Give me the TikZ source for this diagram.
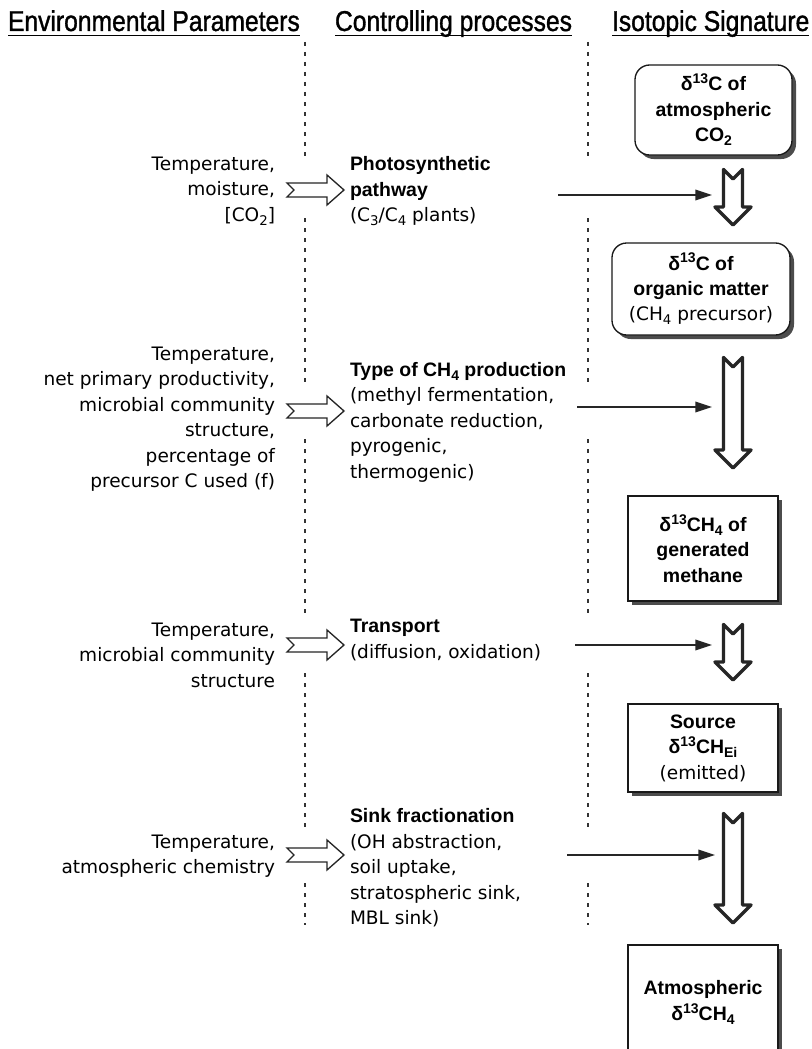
\documentclass[tikz,border=0pt]{standalone}
\usepackage{fontspec}
\setmainfont{DejaVu Sans}
\newfontfamily\libf{Liberation Sans}
\newfontfamily\headfont{Liberation Sans}[FakeStretch=0.86,FakeBold=1.2]
\usetikzlibrary{arrows.meta,shadows}
\tikzset{
  every node/.style={inner sep=0pt, outer sep=0pt},
  header/.style={font=\headfont\fontsize{21.5}{24}\selectfont, anchor=base west},
  envtext/.style={font=\fontsize{13.9}{19.1}\selectfont, align=right, anchor=east},
  proctext/.style={font=\fontsize{13.9}{19.1}\selectfont, align=left, anchor=west},
  guide/.style={draw=black!80, line width=1pt, dash pattern=on 3pt off 4.5pt},
  feed/.style={draw=black!85, line width=1.1pt, -{Triangle[length=12.5pt,width=8pt]}},
  hollowR/.style={draw=black!85, line width=1pt, fill=white, line join=miter},
  hollowD/.style={draw=black!85, line width=2.6pt, fill=white, line join=round},
  sigbox/.style={draw=black!90, line width=1pt, fill=white, align=center,
    font=\libf\bfseries\fontsize{14.6}{19.1}\selectfont,
    drop shadow={shadow xshift=3pt, shadow yshift=-3pt, fill=black!70, opacity=1}},
  roundbox/.style={sigbox, rounded corners=11pt},
}
\newcommand\ttl[1]{{\libf\bfseries\fontsize{14.6}{19.1}\selectfont #1}}
\newcommand\sups[1]{\raisebox{0.36em}{\fontsize{10.5}{10.5}\selectfont #1}}
\newcommand\bsub[1]{\raisebox{-0.2em}{\fontsize{10.5}{10.5}\selectfont #1}}
\newcommand\rsub[1]{\raisebox{-0.2em}{\fontsize{10}{10}\selectfont #1}}
\newcommand\DArr[3]{%
  \draw[hollowD] (723.5,#1+1.5) -- (733,#1+11) -- (742.5,#1+1.5) -- (742.5,#2-20)
    -- (751,#2-20) -- (733,#2-2) -- (715,#2-20) -- (723.5,#2-20) -- cycle;
  \coordinate (#3) at (712,#1);}
\newcommand\RArr[1]{%
  \draw[hollowR] (287,#1-7) -- (327,#1-7) -- (327,#1-15) -- (344,#1)
    -- (327,#1+15) -- (327,#1+7) -- (287,#1+7) -- (294,#1) -- cycle;}
\begin{document}
\begin{tikzpicture}[x=0.75pt,y=-0.75pt]
\useasboundingbox (0,0) rectangle (812,1049);
\clip (0,0) rectangle (812,1049);
\fill[white] (0,0) rectangle (812,1049);

% headers
\node[header] (h1) at (8,31) {Environmental Parameters};
\node[header] (h2) at (335,31) {Controlling processes};
\node[header] (h3) at (612,31) {Isotopic Signature};
\foreach \h in {h1,h2,h3}
  \draw[line width=1.1pt] ([yshift=-3.2pt]\h.base west) -- ([yshift=-3.2pt]\h.base east);

% dotted guides
\foreach \a/\b in {42/162,218/383,439/617,673/827,883/925}{
  \draw[guide] (305,\a) -- (305,\b);
  \draw[guide] (588,\a) -- (588,\b);
}

% environmental parameters
\node[envtext] (e1) at (275,191) {Temperature,\\moisture,\\{[}CO\rsub{2}]};
\node[envtext] (e2) at (275,419) {Temperature,\\net primary productivity,\\microbial community\\structure,\\percentage of\\precursor C used (f)};
\node[envtext] (e3) at (275,655) {Temperature,\\microbial community\\structure};
\node[envtext] (e4) at (275,856) {Temperature,\\atmospheric chemistry};

% hollow arrows
\RArr{190}
\RArr{411}
\RArr{645}
\RArr{855}

% processes
\node[proctext] (p1) at (350,191) {\ttl{Photosynthetic}\\\ttl{pathway}\\(C\rsub{3}/C\rsub{4} plants)};
\node[proctext] (p2) at (350,422) {\ttl{Type of CH\bsub{4} production}\\(methyl fermentation,\\carbonate reduction,\\pyrogenic,\\thermogenic)};
\node[proctext] (p3) at (350,640) {\ttl{Transport}\\(diffusion, oxidation)};
\node[proctext] (p4) at (350,868) {\ttl{Sink fractionation}\\(OH abstraction,\\soil uptake,\\stratospheric sink,\\MBL sink)};

% signature boxes
\node[roundbox, minimum width=117.75pt, minimum height=67.5pt] (b1) at (713.5,110)
  {δ\sups{13}C of\\atmospheric\\CO\bsub{2}};
\node[roundbox, minimum width=133.5pt, minimum height=69pt] (b2) at (701,289)
  {δ\sups{13}C of\\organic matter\\{\rmfamily\mdseries\fontsize{13.9}{19.1}\selectfont (CH\rsub{4} precursor)}};
\node[sigbox, minimum width=112.5pt, minimum height=78.75pt] (b3) at (703,548.5)
  {δ\sups{13}CH\bsub{4} of\\generated\\methane};
\node[sigbox, minimum width=112.5pt, minimum height=66pt] (b4) at (703,748)
  {Source\\δ\sups{13}CH\bsub{Ei}\\{\rmfamily\mdseries\fontsize{13.9}{19.1}\selectfont (emitted)}};
\node[sigbox, minimum width=112.5pt, minimum height=86.25pt] (b5) at (703,1002.5)
  {Atmospheric\\δ\sups{13}CH\bsub{4}};

% down hollow arrows
\DArr{168}{227}{d1}
\DArr{356}{470}{d2}
\DArr{623}{682}{d3}
\DArr{812}{925}{d4}

% feed arrows
\coordinate (f1) at (558,195);  \coordinate (g1) at (712,195);
\coordinate (f2) at (577,407);  \coordinate (g2) at (712,407);
\coordinate (f3) at (575,645);  \coordinate (g3) at (712,645);
\coordinate (f4) at (567,855);  \coordinate (g4) at (715,855);
\draw[feed] (f1) -- (g1);
\draw[feed] (f2) -- (g2);
\draw[feed] (f3) -- (g3);
\draw[feed] (f4) -- (g4);
\end{tikzpicture}
\end{document}
